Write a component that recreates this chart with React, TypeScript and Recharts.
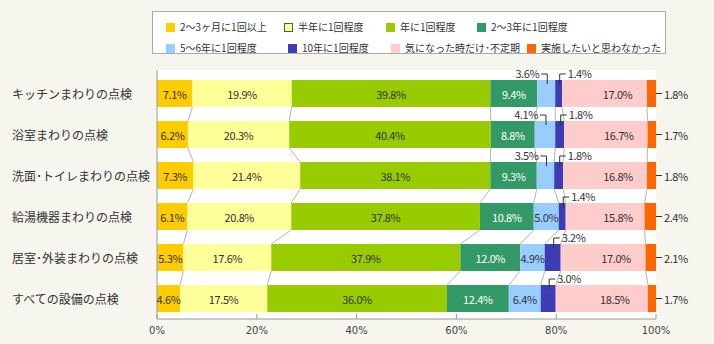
import { Bar, BarChart, CartesianGrid, LabelList, Legend, XAxis, YAxis } from 'recharts';

const categories = [
  'キッチンまわりの点検',
  '浴室まわりの点検',
  '洗面･トイレまわりの点検',
  '給湯機器まわりの点検',
  '居室･外装まわりの点検',
  'すべての設備の点検',
];
const seriesNames = [
  '2～3ヶ月に1回以上',
  '半年に1回程度',
  '年に1回程度',
  '2～3年に1回程度',
  '5～6年に1回程度',
  '10年に1回程度',
  '気になった時だけ･不定期',
  '実施したいと思わなかった',
];
const monthly = [7.1, 6.2, 7.3, 6.1, 5.3, 4.6];
const halfYear = [19.9, 20.3, 21.4, 20.8, 17.6, 17.5];
const yearly = [39.8, 40.4, 38.1, 37.8, 37.9, 36.0];
const twoThreeYears = [9.4, 8.8, 9.3, 10.8, 12.0, 12.4];
const fiveSixYears = [3.6, 4.1, 3.5, 5.0, 4.9, 6.4];
const tenYears = [1.4, 1.8, 1.8, 1.4, 3.2, 3.0];
const irregular = [17.0, 16.7, 16.8, 15.8, 17.0, 18.5];
const never = [1.8, 1.7, 1.8, 2.4, 2.1, 1.7];
const xTicks = [0, 20, 40, 60, 80, 100];

const keys = ['m', 'h', 'y', 't', 'f', 'ten', 'irr', 'never'];
const colors = ['#ffcc00', '#ffff99', '#99cc00', '#339966', '#99ccff', '#3c3cb4', '#ffcccc', '#ff6600'];
const textColors = ['#333', '#333', '#333', '#fff', '#333', '#333', '#333', '#333'];

const series = [monthly, halfYear, yearly, twoThreeYears, fiveSixYears, tenYears, irregular, never];
const data = categories.map((name, i) => {
  const row: Record<string, any> = { name };
  keys.forEach((k, j) => (row[k] = series[j][i]));
  return row;
});

const W = 714;
const H = 344;
const M = { top: 70, right: 58, bottom: 0, left: 7 };
const Y_AXIS_W = 150;
const X_AXIS_H = 25;
const PAD_TOP = 3;
const STEP = (H - M.top - M.bottom - X_AXIS_H - PAD_TOP) / categories.length;

const FONT = "'Noto Sans CJK JP', sans-serif";
const LINE = '#b4b4b4';

const cumThrough = (row: Record<string, any>, k: number) =>
  keys.slice(0, k + 1).reduce((s, key) => s + row[key], 0);

// segment rect plus the series line down to the same boundary on the next row
const makeShape = (k: number) => (props: any) => {
  const { x, y, width, height, fill, index } = props;
  const row = data[index];
  const ppu = width / row[keys[k]];
  const x0 = x - (cumThrough(row, k) - row[keys[k]]) * ppu;
  const next = data[index + 1];
  return (
    <g>
      <rect x={x} y={y} width={width} height={height} fill={fill} />
      {next && k < keys.length - 1 && (
        <line
          x1={x + width}
          y1={y + height}
          x2={x0 + cumThrough(next, k) * ppu}
          y2={y + STEP}
          stroke={LINE}
        />
      )}
    </g>
  );
};

const txt = { fontSize: 11, fontFamily: FONT, letterSpacing: -0.4 };

const makeLabel = (k: number) => (p: any) => {
  const { x, y, width, height, value } = p;
  const cx = x + width / 2;
  const cy = y + height / 2;
  const s = `${Number(value).toFixed(1)}%`;
  if (k === 7) {
    const ex = x + width;
    return (
      <g>
        <line x1={ex} y1={cy} x2={ex + 6} y2={cy} stroke="#333" />
        <text x={ex + 8} y={cy} dominantBaseline="central" fill="#333" {...txt}>{s}</text>
      </g>
    );
  }
  if (k === 4 && value < 4.5) {
    const lx = cx + 1;
    return (
      <g>
        <polyline points={`${lx - 6},${y - 6} ${lx},${y - 6} ${lx},${y + 4}`} fill="none" stroke="#333" />
        <text x={lx - 8} y={y - 7} textAnchor="end" dominantBaseline="central" fill="#333" {...txt}>{s}</text>
      </g>
    );
  }
  if (k === 5) {
    const lx = cx + 1;
    return (
      <g>
        <polyline points={`${lx + 6},${y - 6} ${lx},${y - 6} ${lx},${y + 4}`} fill="none" stroke="#333" />
        <text x={lx + 8} y={y - 7} dominantBaseline="central" fill="#333" {...txt}>{s}</text>
      </g>
    );
  }
  return (
    <text
      x={k === 6 ? cx + 13 : cx}
      y={cy}
      textAnchor="middle"
      dominantBaseline="central"
      fill={textColors[k]}
      {...txt}
    >
      {s}
    </text>
  );
};

const legendRows = [
  [0, 1, 2, 3],
  [4, 5, 6, 7],
];
const legendX = [
  [13, 131, 233, 324],
  [13, 135, 238, 374],
];

function LegendBox() {
  return (
    <div
      style={{
        position: 'relative',
        width: 512,
        height: 41,
        background: '#fff',
        border: '1px solid #aaa',
        fontFamily: FONT,
        fontSize: 10,
        color: '#333',
      }}
    >
      {legendRows.map((r, ri) =>
        r.map((si, ci) => (
          <div
            key={si}
            style={{
              position: 'absolute',
              left: legendX[ri][ci],
              top: ri === 0 ? 8 : 29,
              display: 'flex',
              alignItems: 'center',
              whiteSpace: 'nowrap',
              lineHeight: '14px',
            }}
          >
            <span
              style={{
                display: 'inline-block',
                width: 9,
                height: 9,
                boxSizing: 'border-box',
                background: colors[si],
                border: si === 1 ? '1px solid #555' : 'none',
                marginRight: 5,
              }}
            />
            {seriesNames[si]}
          </div>
        ))
      )}
    </div>
  );
}

const XTick = (p: any) => {
  const { x, y, payload } = p;
  return (
    <g>
      <line x1={x} y1={y} x2={x} y2={y - 5} stroke="#999" />
      <text x={x} y={y + 11} textAnchor="middle" dominantBaseline="central" fill="#444" fontSize={10} fontFamily="'DejaVu Sans', sans-serif">
        {`${payload.value}%`}
      </text>
    </g>
  );
};

const YTick = (p: any) => {
  const { y, payload } = p;
  return (
    <text x={12} y={y} dominantBaseline="central" fill="#333" fontSize={12} fontFamily={FONT}>
      {payload.value}
    </text>
  );
};

export default function App() {
  return (
    <div style={{ position: 'absolute', left: 0, top: 0, width: W, height: H, background: '#f6f5ee' }}>
      <BarChart width={W} height={H} data={data} layout="vertical" margin={M} barSize={27}>
        <CartesianGrid fill="#fff" horizontal={false} vertical={false} />
        <XAxis
          type="number"
          domain={[0, 100]}
          allowDataOverflow
          ticks={xTicks}
          height={X_AXIS_H}
          tickSize={0}
          tickMargin={0}
          tickLine={false}
          axisLine={{ stroke: '#999' }}
          tick={<XTick />}
        />
        <XAxis
          xAxisId="top"
          orientation="top"
          type="number"
          domain={[0, 100]}
          height={0}
          tick={false}
          tickLine={false}
          axisLine={{ stroke: '#999' }}
        />
        <YAxis
          type="category"
          dataKey="name"
          width={Y_AXIS_W}
          padding={{ top: PAD_TOP, bottom: 0 }}
          tickLine={false}
          axisLine={{ stroke: '#999' }}
          tick={<YTick />}
        />
        <YAxis
          yAxisId="right"
          orientation="right"
          type="category"
          dataKey="name"
          width={0}
          tick={false}
          tickLine={false}
          axisLine={{ stroke: '#999' }}
        />
        <Legend
          layout="vertical"
          align="center"
          verticalAlign="middle"
          content={() => <LegendBox />}
          wrapperStyle={{ left: 152, top: 11, width: 514, height: 43 }}
        />
        {keys.map((k, i) => (
          <Bar
            key={k}
            dataKey={k}
            name={seriesNames[i]}
            stackId="s"
            fill={colors[i]}
            shape={makeShape(i)}
            isAnimationActive={false}
          >
            <LabelList dataKey={k} content={makeLabel(i)} />
          </Bar>
        ))}
      </BarChart>
    </div>
  );
}
